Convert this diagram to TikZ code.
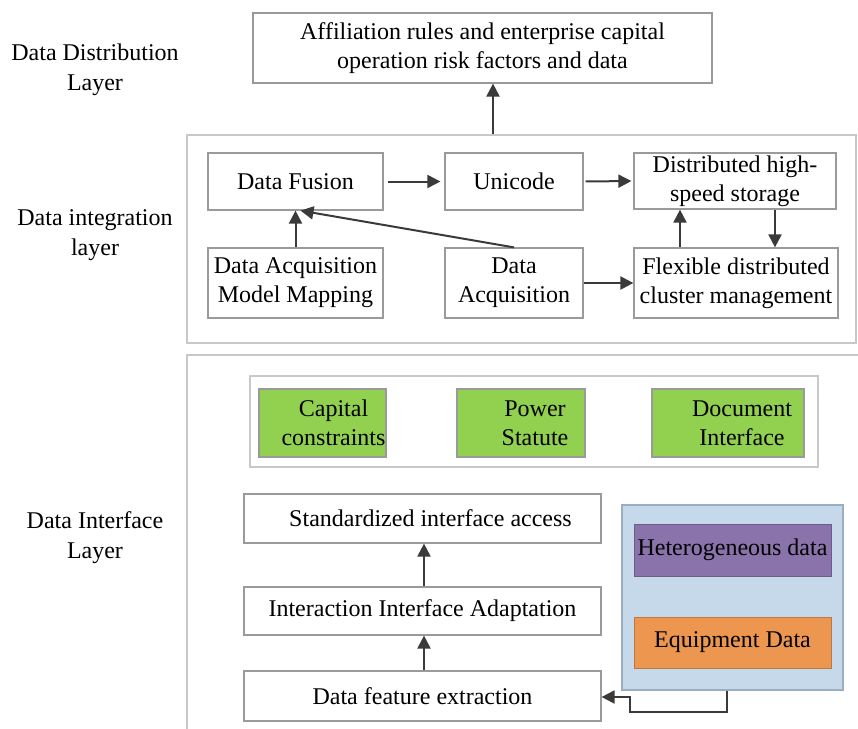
\documentclass[tikz,border=0pt]{standalone}
\usepackage{fontspec}
\setmainfont{Liberation Serif}
\usetikzlibrary{arrows.meta,calc}
\definecolor{bord}{HTML}{9A9A9A}
\definecolor{lbord}{HTML}{C8C8C8}
\definecolor{arr}{HTML}{3A3A3A}
\definecolor{gfill}{HTML}{92D050}
\definecolor{pfill}{HTML}{8A72AA}
\definecolor{ofill}{HTML}{EC9650}
\definecolor{bfill}{HTML}{C6D9EA}
\definecolor{bbord}{HTML}{9AAEC0}
\tikzset{
  wbox/.style={draw=bord, fill=white, line width=0.6pt, align=center, inner sep=0pt, font=\fontsize{12}{14.5}\selectfont},
  gbox/.style={draw=bord, fill=gfill, line width=0.6pt, inner sep=0pt},
  lbl/.style={align=center, font=\fontsize{12}{15}\selectfont},
  txt/.style={align=center, inner sep=0pt, font=\fontsize{12}{14.5}\selectfont},
  arrow/.style={draw=arr, line width=1pt, -{Triangle[length=6.5pt,width=6.5pt]}},
}
\begin{document}
\begin{tikzpicture}[x=0.5pt,y=-0.5pt]
\useasboundingbox (0,0) rectangle (858,729);
% layer labels
\node[lbl] (l1) at (95,70) {Data Distribution\\Layer};
\node[lbl] (l2) at (95,235) {Data integration\\layer};
\node[lbl] (l3) at (95,538) {Data Interface\\Layer};
% top
\node[wbox, minimum width=229.5pt, minimum height=35pt] (top) at (482.5,48) {Affiliation rules and enterprise capital\\operation risk factors and data};
% integration layer
\node[draw=lbord, line width=0.6pt, minimum width=334.5pt, minimum height=104pt, inner sep=0pt] (integ) at (521.5,239) {};
\node[wbox, minimum width=87.5pt, minimum height=28.5pt] (df) at (295.5,181.5) {Data Fusion};
\node[wbox, minimum width=69pt, minimum height=28.5pt] (uni) at (514,181.5) {Unicode};
\node[wbox, minimum width=101pt, minimum height=28pt] (dist) at (735,181) {Distributed high-\\speed storage};
\node[wbox, minimum width=87.5pt, minimum height=35pt] (damm) at (295.5,283) {Data Acquisition\\Model Mapping};
\node[wbox, minimum width=69pt, minimum height=35pt] (da) at (514,283) {Data\\Acquisition};
\node[wbox, minimum width=102pt, minimum height=35pt] (flex) at (736,283) {Flexible distributed\\cluster management};
\draw[arrow] (integ.north -| 493,0) -- (top.south -| 493,0);
\draw[arrow, shorten <=2pt, shorten >=2pt] (df.east) -- (uni.west);
\draw[arrow, shorten <=1pt, shorten >=1pt] (uni.east) -- (dist.west);
\draw[arrow] (flex.north -| 680,0) -- (dist.south -| 680,0);
\draw[arrow] (dist.south -| 775,0) -- (flex.north -| 775,0);
\draw[arrow] (damm.north) -- (df.south);
\draw[arrow] (da.north) -- ($(df.south)+(5,0)$);
\draw[arrow] (da.east) -- (flex.west);
% interface layer
\coordinate (ib1) at (187,729);
\coordinate (ib2) at (187,355);
\coordinate (ib3) at (858,355);
\draw[lbord, line width=0.6pt] (ib1) -- (ib2) -- (ib3);
\node[draw=lbord, line width=0.6pt, minimum width=284pt, minimum height=45.5pt, inner sep=0pt] (gc) at (534,421.5) {};
\node[gbox, minimum width=63.5pt, minimum height=34pt] (cc) at (322.5,423) {};
\node[txt] (cct) at ($(cc)+(11,0)$) {Capital\\constraints};
\node[gbox, minimum width=64pt, minimum height=34pt] (ps) at (521,423) {};
\node[txt] (pst) at ($(ps)+(14,0)$) {Power\\Statute};
\node[gbox, minimum width=76pt, minimum height=34pt] (di) at (728,423) {};
\node[txt] (dit) at ($(di)+(14,0)$) {Document\\Interface};
\node[wbox, minimum width=178.5pt, minimum height=24.5pt] (sia) at (422.5,518.5) {\hspace*{8pt}Standardized interface access};
\node[wbox, minimum width=178.5pt, minimum height=24pt] (iia) at (422.5,611) {Interaction Interface Adaptation};
\node[wbox, minimum width=178.5pt, minimum height=25pt] (dfe) at (422.5,696) {Data feature extraction};
\node[draw=bbord, fill=bfill, line width=0.6pt, minimum width=110.5pt, minimum height=92.5pt, inner sep=0pt] (blue) at (732.5,597.5) {};
\node[draw=pfill!80!black, fill=pfill, line width=0.4pt, minimum width=98.5pt, minimum height=26pt, inner sep=0pt, font=\fontsize{12}{14.5}\selectfont] (het) at (732.5,550) {Heterogeneous data};
\node[draw=ofill!80!black, fill=ofill, line width=0.4pt, minimum width=98.5pt, minimum height=25.5pt, inner sep=0pt, font=\fontsize{12}{14.5}\selectfont] (eq) at (732.5,642.5) {Equipment Data};
\draw[arrow] (iia.north -| 424,0) -- (sia.south -| 424,0);
\draw[arrow] (dfe.north -| 424,0) -- (iia.south -| 424,0);
\draw[arrow] (blue.south -| 727,0) -- (727,712) -- (630,712) -- (630,697) -- (dfe.east |- 0,697);
\end{tikzpicture}
\end{document}
